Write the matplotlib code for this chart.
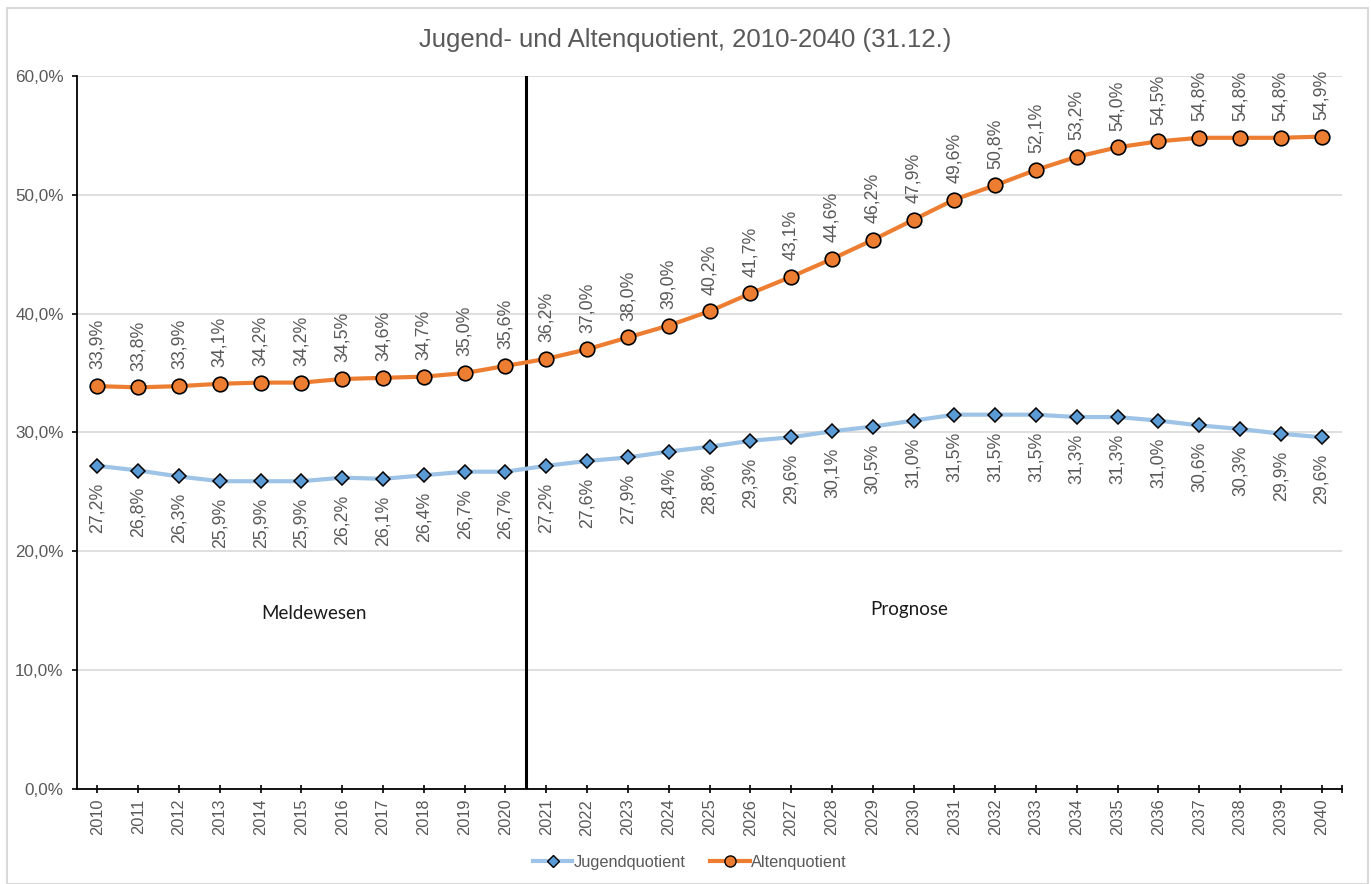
import matplotlib
matplotlib.use("Agg")
import matplotlib.pyplot as plt
from matplotlib.lines import Line2D
from matplotlib.patches import Rectangle

years = [str(y) for y in range(2010, 2041)]
jugend = [27.2, 26.8, 26.3, 25.9, 25.9, 25.9, 26.2, 26.1, 26.4, 26.7, 26.7,
          27.2, 27.6, 27.9, 28.4, 28.8, 29.3, 29.6, 30.1, 30.5, 31.0,
          31.5, 31.5, 31.5, 31.3, 31.3, 31.0, 30.6, 30.3, 29.9, 29.6]
alten = [33.9, 33.8, 33.9, 34.1, 34.2, 34.2, 34.5, 34.6, 34.7, 35.0, 35.6,
         36.2, 37.0, 38.0, 39.0, 40.2, 41.7, 43.1, 44.6, 46.2, 47.9,
         49.6, 50.8, 52.1, 53.2, 54.0, 54.5, 54.8, 54.8, 54.8, 54.9]
yticks = [0, 10, 20, 30, 40, 50, 60]
title = "Jugend- und Altenquotient, 2010-2040 (31.12.)"
series_names = ["Jugendquotient", "Altenquotient"]
region_labels = ["Meldewesen", "Prognose"]

GRAY = "#595959"
BLUE_LINE = "#9DC3E6"
BLUE_MARK = "#5B9BD5"
ORANGE = "#ED7D31"
FONT = ["Liberation Sans", "DejaVu Sans"]

plt.rcParams["font.family"] = FONT

fig = plt.figure(figsize=(13.71, 8.84), dpi=100)
W, H = 1371, 884
fig.patches.append(Rectangle((7 / W, 0), (1368 - 7) / W, (884 - 8) / H,
                             transform=fig.transFigure, fill=False,
                             edgecolor="#D9D9D9", linewidth=1.5))

ax = fig.add_axes([77 / W, (884 - 789) / H, (1342 - 77) / W, (789 - 76) / H])
x = list(range(len(years)))

ax.plot(x, jugend, color=BLUE_LINE, linewidth=3, marker="D", markersize=7,
        markerfacecolor=BLUE_MARK, markeredgecolor="black", markeredgewidth=1.1,
        zorder=4)
ax.plot(x, alten, color=ORANGE, linewidth=3, marker="o", markersize=10.5,
        markerfacecolor=ORANGE, markeredgecolor="black", markeredgewidth=1.2,
        zorder=4)

def fmt(v):
    return f"{v:.1f}%".replace(".", ",")

for xi, v in zip(x, alten):
    ax.annotate(fmt(v), (xi, v), xytext=(0, 12), textcoords="offset points",
                rotation=90, ha="center", va="bottom", fontsize=12.8, color=GRAY)
for xi, v in zip(x, jugend):
    ax.annotate(fmt(v), (xi, v), xytext=(0, -12), textcoords="offset points",
                rotation=90, ha="center", va="top", fontsize=12.8, color=GRAY)

ax.axvline(10.5, color="black", linewidth=2.2, zorder=3)

ax.set_xlim(-0.5, len(years) - 0.5)
ax.set_ylim(0, 60)
ax.set_yticks(yticks)
ax.set_yticklabels([f"{t:.1f}%".replace(".", ",") for t in yticks],
                   fontsize=12.3, color=GRAY)
ax.set_xticks(x)
ax.set_xticklabels(years, rotation=90, fontsize=11.8, color=GRAY)
ax.set_xticks([len(years) - 0.5], minor=True)
ax.tick_params(axis="y", length=3.6, width=1.2, color="black", pad=6)
ax.tick_params(axis="x", which="both", direction="inout", length=6, width=1.2,
               color="black", pad=4)
ax.grid(axis="y", color="#D9D9D9", linewidth=1.2, zorder=0)
ax.set_axisbelow(True)
for s in ["top", "right"]:
    ax.spines[s].set_visible(False)
for s in ["left", "bottom"]:
    ax.spines[s].set_color("black")
    ax.spines[s].set_linewidth(1.3)

ax.text(5.3, 14.8, region_labels[0], ha="center", va="center", fontsize=13.5,
        color="#1a1a1a", family=["Lato", "DejaVu Sans"])
ax.text(19.9, 15.1, region_labels[1], ha="center", va="center", fontsize=13.5,
        color="#1a1a1a", family=["Lato", "DejaVu Sans"])

fig.text(0.5, 1 - 40 / H, title, ha="center", va="center", fontsize=18.5,
         color=GRAY)

handles = [
    Line2D([], [], color=BLUE_LINE, linewidth=3, marker="D", markersize=6,
           markerfacecolor=BLUE_MARK, markeredgecolor="black",
           markeredgewidth=1.0),
    Line2D([], [], color=ORANGE, linewidth=3, marker="o", markersize=8,
           markerfacecolor=ORANGE, markeredgecolor="black",
           markeredgewidth=1.0),
]
leg = fig.legend(handles, series_names, loc="center",
                 bbox_to_anchor=(690 / W, 1 - 862 / H), ncol=2, frameon=False,
                 fontsize=11.8, handlelength=2.4, handletextpad=0.1,
                 columnspacing=1.5, labelcolor=GRAY)

fig.savefig("out.png", dpi=100)
